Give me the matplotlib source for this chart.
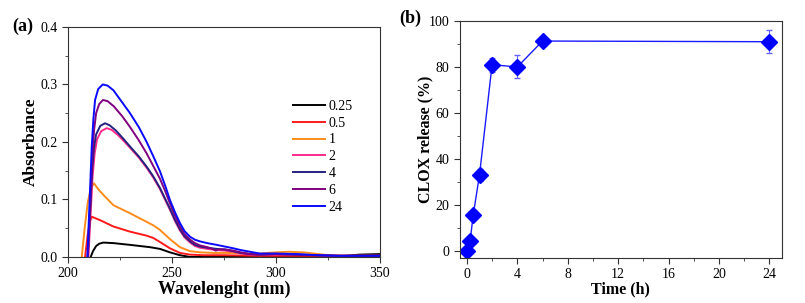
import matplotlib
matplotlib.use("Agg")
import matplotlib.pyplot as plt
from matplotlib.ticker import MultipleLocator

plt.rcParams['font.family'] = ['Liberation Serif', 'DejaVu Serif']

# (a) UV-vis spectra
wl_024 = [209.3, 210.3, 211.4, 212.2, 213, 214.5, 216.7, 219, 221.8, 225, 229.8, 234, 237.8, 241, 244.2, 247, 249,
          251.5, 253.8, 256, 258.7, 261, 263.5, 267, 271.5, 275.5, 279.5, 283, 287.5, 292, 300, 310, 320, 330, 350]
ab_024 = [0.0, 0.09, 0.192, 0.24, 0.273, 0.292, 0.300, 0.298, 0.290, 0.274, 0.250, 0.226, 0.200, 0.175, 0.149, 0.121, 0.099,
          0.077, 0.059, 0.045, 0.035, 0.030, 0.027, 0.024, 0.021, 0.018, 0.015, 0.012, 0.009, 0.006, 0.006, 0.005, 0.003, 0.002, 0.002]
wl_006 = [209.5, 210.5, 211.6, 212.5, 213.5, 215, 216.8, 219, 222, 226, 229.8, 234, 237.8, 241, 244.2, 247, 249, 251.5,
          253.8, 256, 258.7, 261, 263.5, 267, 269.5, 271, 272.5, 275.5, 279.5, 283, 287.5, 292, 300, 310, 320, 330, 350]
ab_006 = [0.0, 0.08, 0.17, 0.22, 0.25, 0.266, 0.273, 0.271, 0.262, 0.245, 0.226, 0.203, 0.180, 0.158, 0.136, 0.112, 0.093, 0.071,
          0.053, 0.040, 0.030, 0.024, 0.020, 0.017, 0.014, 0.011, 0.013, 0.013, 0.011, 0.008, 0.005, 0.004, 0.005, 0.004, 0.003, 0.002, 0.002]
wl_004 = [209.5, 210.5, 211.6, 212.5, 213.5, 215.5, 217.8, 220, 223, 226.5, 229.8, 234, 237.8, 241, 244.2, 247, 249,
          251.5, 253.8, 256, 258.7, 261, 263.5, 267, 271.5, 275.5, 279.5, 283, 287.5, 292, 300, 310, 320, 330, 350]
ab_004 = [0.0, 0.07, 0.15, 0.19, 0.213, 0.228, 0.2325, 0.229, 0.220, 0.206, 0.192, 0.175, 0.157, 0.140, 0.120, 0.099, 0.084,
          0.064, 0.048, 0.036, 0.027, 0.021, 0.018, 0.016, 0.014, 0.013, 0.010, 0.007, 0.005, 0.004, 0.005, 0.004, 0.003, 0.002, 0.002]
wl_002 = [209.8, 210.8, 211.8, 212.8, 214, 216, 218.6, 221, 224, 227, 229.8, 234, 237.8, 241, 244.2, 247, 249,
          251.5, 253.8, 256, 258.7, 261, 263.5, 267, 271.5, 275.5, 279.5, 283, 287.5, 292, 300, 310, 320, 330, 350]
ab_002 = [0.0, 0.07, 0.14, 0.18, 0.205, 0.219, 0.224, 0.221, 0.212, 0.201, 0.190, 0.173, 0.155, 0.138, 0.118, 0.097, 0.082,
          0.062, 0.046, 0.034, 0.025, 0.019, 0.016, 0.014, 0.012, 0.011, 0.009, 0.006, 0.004, 0.003, 0.004, 0.004, 0.003, 0.002, 0.002]
wl_001 = [206.6, 208, 209.5, 211, 212.5, 214.5, 217, 221.8, 229.8, 237.8, 241, 244.2, 249, 253.8, 258.7, 263.5, 270, 280, 290,
          296, 300, 306, 313, 318, 325, 335, 350]
ab_001 = [0.0, 0.05, 0.095, 0.12, 0.128, 0.118, 0.108, 0.090, 0.076, 0.061, 0.055, 0.047, 0.031, 0.017, 0.010, 0.008, 0.007, 0.007, 0.005,
          0.007, 0.008, 0.009, 0.008, 0.006, 0.003, 0.002, 0.002]
wl_05 = [208.2, 209.5, 210.5, 211.4, 215.4, 221.8, 229.8, 237.8, 241, 244.2, 249, 253.8, 258.7, 265, 275, 290, 310, 330, 350]
ab_05 = [0.0, 0.04, 0.062, 0.070, 0.064, 0.053, 0.044, 0.037, 0.033, 0.026, 0.015, 0.007, 0.004, 0.003, 0.003, 0.002, 0.002, 0.002, 0.002]
wl_025 = [210.9, 212, 213.5, 215, 217, 222, 229.8, 239.4, 244.2, 249, 253.8, 258.7, 280, 300, 320, 330, 340, 350]
ab_025 = [0.0, 0.01, 0.019, 0.023, 0.025, 0.024, 0.021, 0.017, 0.014, 0.008, 0.003, 0.0, 0.0, 0.0, 0.0, 0.001, 0.004, 0.005]

series = [
    ('0.25', wl_025, ab_025, 'black'),
    ('0.5', wl_05, ab_05, '#ff1a1a'),
    ('1', wl_001, ab_001, '#ff8c1a'),
    ('2', wl_002, ab_002, '#ff2a8a'),
    ('4', wl_004, ab_004, '#23237f'),
    ('6', wl_006, ab_006, '#800080'),
    ('24', wl_024, ab_024, '#0a0aff'),
]

# (b) release profile
time_h = [0, 0.25, 0.5, 1, 2, 4, 6, 24]
release = [0, 4, 15.5, 33, 81, 80, 91.3, 91]
release_err = [0, 1, 1, 2.5, 3, 5, 1.5, 5]

fig = plt.figure(figsize=(8.05, 3.03), dpi=100)

ax1 = fig.add_axes([0.0845, 0.152, 0.3876, 0.759])
for lab, x, y, c in series:
    ax1.plot(x, y, color=c, lw=1.4, label=lab)
ax1.set_xlim(200, 350)
ax1.set_ylim(0, 0.4)
ax1.xaxis.set_major_locator(MultipleLocator(50))
ax1.xaxis.set_minor_locator(MultipleLocator(25))
ax1.yaxis.set_major_locator(MultipleLocator(0.1))
ax1.yaxis.set_minor_locator(MultipleLocator(0.05))
ax1.yaxis.set_major_formatter(plt.FormatStrFormatter('%.1f'))
ax1.set_xlabel('Wavelenght (nm)', fontsize=13, fontweight='bold', labelpad=0)
ax1.set_ylabel('Absorbance', fontsize=12.5, fontweight='bold', labelpad=1)
ax1.legend(loc='upper left', bbox_to_anchor=(0.704, 0.708), frameon=False,
           fontsize=10, handlelength=2.3, labelspacing=0.28, handletextpad=0.25,
           borderaxespad=0)
ax1.text(-0.18, 1.04, '(a)', transform=ax1.transAxes, fontsize=13,
         fontweight='bold', va='top')

ax2 = fig.add_axes([0.5714, 0.1485, 0.3999, 0.782])
ax2.errorbar(time_h, release, yerr=release_err, color='#1a1aff', lw=1,
             marker='D', markersize=8.5, markerfacecolor='#0000ff', markeredgecolor='#0000ff',
             capsize=2, elinewidth=0.8, ecolor='#6666ff')
ax2.set_xlim(-0.55, 25)
ax2.set_ylim(-3.2, 100)
ax2.xaxis.set_major_locator(MultipleLocator(4))
ax2.xaxis.set_minor_locator(MultipleLocator(2))
ax2.yaxis.set_major_locator(MultipleLocator(20))
ax2.yaxis.set_minor_locator(MultipleLocator(10))
ax2.set_xlabel('Time (h)', fontsize=11.5, fontweight='bold', labelpad=0)
ax2.set_ylabel('CLOX release (%)', fontsize=11.5, fontweight='bold', labelpad=-3)
ax2.text(-0.188, 1.05, '(b)', transform=ax2.transAxes, fontsize=13,
         fontweight='bold', va='top')

for ax in (ax1, ax2):
    ax.tick_params(which='both', direction='out', labelsize=10, color='#333333')
    ax.tick_params(which='major', length=4)
    ax.tick_params(which='minor', length=2.5)
    for s in ax.spines.values():
        s.set_color('#333333')

fig.savefig('out.png', dpi=100)
